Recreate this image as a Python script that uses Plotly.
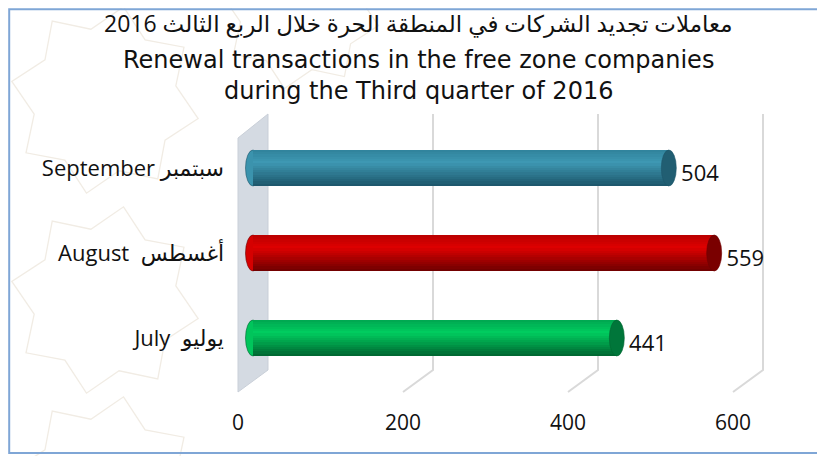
import math
import plotly.graph_objects as go

# ---------------- data ----------------
months = ["July  يوليو", "August  أغسطس", "September سبتمبر"]   # bottom -> top
values = [441, 559, 504]
tick_vals = [0, 200, 400, 600]
title_ar = "معاملات تجديد الشركات في المنطقة الحرة خلال الربع الثالث 2016"
title_en = ["Renewal transactions in the free zone companies",
            "during the Third quarter of 2016"]

# ---------------- style ----------------
W, H = 825, 456
OFF = 8                # page body margin of the html
FONT = "Open Sans, DejaVu Sans, sans-serif"
TFONT = "DejaVu Sans, Open Sans, sans-serif"
SCALE = 0.825          # px per unit
MID0 = 253 - OFF       # px of value 0 at bar depth (figure coords)
FRONT0 = 238 - OFF     # px of value 0 at front plane
DEPTH_PX = 15
ROW0 = 338 - OFF       # px centre of first row
ROW_STEP = 85
BAR_PX = 36
BH = BAR_PX / ROW_STEP
CAP_U = 7.5 / SCALE
WALL_TOP, WALL_BOT = 114, 370
FRONT_DROP = 22

palettes = [  # top, highlight, bottom, cap
    ((0, 165, 80), (0, 205, 95), (0, 100, 48), (0, 118, 58)),      # green
    ((185, 0, 0), (222, 0, 0), (110, 0, 0), (122, 0, 0)),          # red
    ((48, 130, 155), (62, 152, 179), (28, 85, 105), (33, 94, 114)), # teal
]


def mix(a, b, t):
    return tuple(int(round(a[k] + (b[k] - a[k]) * t)) for k in range(3))


def shade(p, t):
    top, hi, bot, _ = p
    if t < 0.35:
        c = mix(top, hi, t / 0.35)
    else:
        c = mix(hi, bot, (t - 0.35) / 0.65)
    return "rgb(%d,%d,%d)" % c


def rgb(c):
    return "rgb(%d,%d,%d)" % c


def py(px):  # screen pixel from top -> paper fraction
    return (H - (px - OFF)) / H


def pxx(px):  # screen pixel from left -> paper fraction
    return (px - OFF) / W


positions = list(range(len(months)))

fig = go.Figure()

N = 16
bw = BH / N
for k in range(N):
    t = (k + 0.5) / N
    fig.add_trace(go.Bar(
        x=values, y=positions, orientation="h",
        width=bw * 1.04, offset=BH / 2 - (k + 1) * bw,
        marker=dict(color=[shade(p, t) for p in palettes], line=dict(width=0)),
        showlegend=False, hoverinfo="skip",
    ))

fig.add_trace(go.Scatter(
    x=values, y=[p - 0.085 for p in positions], mode="markers+text",
    text=[str(v) for v in values], textposition="middle right",
    marker=dict(size=18, opacity=0),
    textfont=dict(family=FONT, size=22, color="#111111"),
    showlegend=False, hoverinfo="skip",
))

shapes = []


# faint decorative background (eight-pointed stars)
def star_path(cx, cy, r):
    pts = []
    for k in range(16):
        a = math.pi / 8 * k + math.pi / 16
        rr = r if k % 2 == 0 else r * 0.76
        pts.append((pxx(cx + rr * math.cos(a)), py(cy + rr * math.sin(a))))
    return "M " + " L ".join("%f,%f" % p for p in pts) + " Z"


for cx, cy, r in [(105, 100, 95), (105, 300, 95), (105, 490, 95),
                  (300, 10, 80)]:
    shapes.append(dict(type="path", xref="paper", yref="paper", layer="below",
                       path=star_path(cx, cy, r),
                       line=dict(color="#f1ece4", width=1.3),
                       fillcolor="rgba(0,0,0,0)"))
# side wall
shapes.append(dict(
    type="path", xref="paper", yref="paper", layer="below",
    path="M %f,%f L %f,%f L %f,%f L %f,%f Z" % (
        pxx(238), py(WALL_TOP + FRONT_DROP + 2),
        pxx(238 + 2 * DEPTH_PX), py(WALL_TOP),
        pxx(238 + 2 * DEPTH_PX), py(WALL_BOT),
        pxx(238), py(WALL_BOT + FRONT_DROP)),
    fillcolor="#d4dae2", line=dict(color="#c9cfd8", width=1),
))
# gridlines (back plane + floor slant)
du = DEPTH_PX / SCALE
for v in tick_vals[1:]:
    shapes.append(dict(
        type="path", xref="x", yref="paper", layer="below",
        path="M %f,%f L %f,%f L %f,%f" % (
            v + du, py(WALL_TOP), v + du, py(WALL_BOT),
            v - du, py(WALL_BOT + FRONT_DROP)),
        line=dict(color="#d9d9d9", width=2),
    ))
# rounded left ends and caps
for i, (v, p) in enumerate(zip(values, positions)):
    pal = palettes[i]
    shapes.append(dict(
        type="circle", xref="x", yref="y", layer="below",
        x0=-CAP_U, x1=CAP_U, y0=p - BH / 2, y1=p + BH / 2,
        fillcolor=shade(pal, 0.4), line=dict(color=rgb(pal[2]), width=0.6),
    ))
    shapes.append(dict(
        type="circle", xref="x", yref="y", layer="above",
        x0=v - CAP_U, x1=v + CAP_U, y0=p - BH / 2, y1=p + BH / 2,
        fillcolor=rgb(pal[3]), line=dict(color=rgb(pal[2]), width=0.6),
    ))
# frame
shapes.append(dict(
    type="rect", xref="paper", yref="paper", layer="below",
    x0=1.2 / W, x1=1.02, y0=py(453), y1=1 - 1.2 / H,
    line=dict(color="#7fa6d6", width=2), fillcolor="rgba(0,0,0,0)",
))

annotations = [dict(
    text=title_ar, xref="paper", yref="paper", x=pxx(418), y=py(23),
    xanchor="center", yanchor="middle", showarrow=False,
    font=dict(family=FONT, size=23, color="#111111"),
)]
annotations += [dict(
    text=line, xref="paper", yref="paper", x=pxx(418), y=py(yy),
    xanchor="center", yanchor="middle", showarrow=False,
    font=dict(family=TFONT, size=24, color="#111111"),
) for line, yy in zip(title_en, [60, 91])]

fig.update_layout(
    width=W, height=H,
    margin=dict(l=0, r=0, t=0, b=0),
    paper_bgcolor="white", plot_bgcolor="rgba(0,0,0,0)",
    barmode="overlay", bargap=0,
    font=dict(family=FONT, color="#111111"),
    shapes=shapes,
    annotations=annotations,
    xaxis=dict(range=[-MID0 / SCALE, (W - MID0) / SCALE], visible=False,
               domain=[0, 1], fixedrange=True),
    xaxis2=dict(range=[-FRONT0 / SCALE, (W - FRONT0) / SCALE],
                overlaying="x", anchor="free", position=py(408),
                tickvals=tick_vals, ticks="", showgrid=False, zeroline=False,
                showline=False, tickfont=dict(family=FONT, size=21)),
    yaxis=dict(range=[-(H - ROW0) / ROW_STEP, ROW0 / ROW_STEP],
               tickvals=positions, ticktext=months, ticks="",
               showgrid=False, zeroline=False, showline=False,
               anchor="free", position=pxx(224), automargin=False,
               tickfont=dict(family=FONT, size=22)),
)
# invisible trace to activate xaxis2
fig.add_trace(go.Scatter(x=[0], y=[-1.3], xaxis="x2", mode="markers",
                         marker=dict(opacity=0), showlegend=False,
                         hoverinfo="skip"))

fig.write_html("out.html")
